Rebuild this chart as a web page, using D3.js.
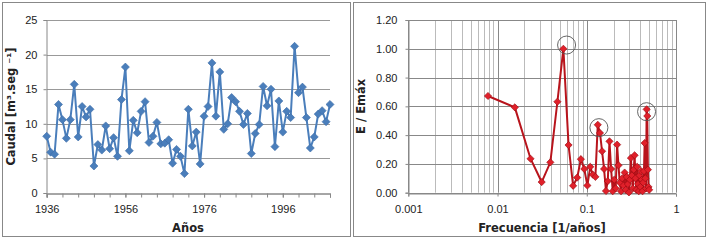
<!DOCTYPE html>
<html>
<head>
<meta charset="utf-8">
<script src="https://cdn.jsdelivr.net/npm/d3@7"></script>
<style>
	body { margin: 0; background: #fff; }
	svg { display: block; font-family: "DejaVu Sans", Verdana, sans-serif; }
	.tick text { font-size: 11px; fill: #222; }
	.title { font-size: 11.5px; font-weight: bold; fill: #222; }
</style>
</head>
<body>
<svg id="chart" width="709" height="241"></svg>
<script>
// caudal anual, 1936 - 2008
const startYear = 1936
const caudal = [
	8.2, 5.9, 5.6, 12.8, 10.6, 7.9, 10.6, 15.7, 8.1, 12.5,
	11.0, 12.1, 3.9, 7.0, 6.2, 9.7, 6.4, 8.0, 5.3, 13.5,
	18.2, 6.1, 10.5, 8.7, 11.8, 13.2, 7.3, 8.2, 10.2, 7.1,
	7.2, 7.7, 4.3, 6.3, 5.3, 2.8, 12.1, 6.8, 8.8, 4.2,
	11.1, 12.5, 18.8, 11.1, 17.5, 9.2, 10.0, 13.8, 13.2, 11.8,
	9.9, 11.5, 5.7, 8.6, 9.9, 15.4, 12.6, 15.0, 6.7, 13.3,
	8.8, 11.8, 10.9, 21.2, 14.5, 15.3, 10.9, 6.5, 8.1, 11.4,
	11.9, 10.3, 12.8
]
const yearLabels = [1936, 1956, 1976, 1996]
const caudalTicks = [0, 5, 10, 15, 20, 25]

// espectro normalizado, frecuencias k/128
const nfft = 128
const energia = [
	0.672, 0.593, 0.236, 0.074, 0.211, 0.632, 1.000, 0.331, 0.048, 0.105,
	0.233, 0.165, 0.050, 0.180, 0.125, 0.110, 0.472, 0.415, 0.288, 0.165,
	0.012, 0.080, 0.357, 0.165, 0.010, 0.090, 0.030, 0.334, 0.190, 0.070,
	0.010, 0.100, 0.050, 0.140, 0.020, 0.110, 0.060, 0.002, 0.090, 0.241,
	0.120, 0.030, 0.160, 0.260, 0.100, 0.020, 0.180, 0.060, 0.010, 0.120,
	0.040, 0.150, 0.090, 0.010, 0.070, 0.150, 0.345, 0.100, 0.030, 0.579,
	0.533, 0.160, 0.040, 0.020
]
const freqLabels = [0.001, 0.01, 0.1, 1]
const energiaTicks = [0, 0.2, 0.4, 0.6, 0.8, 1.0, 1.2]
// picos marcados con un circulo
const picos = [
	{f: 0.0594, e: 1.026},
	{f: 0.1368, e: 0.452},
	{f: 0.468, e: 0.563},
]

const svg = d3.select("#chart")
const gridColor = "#999"

function frame(x0, x1) {
	svg.append("rect")
		.attr("x", x0 + 0.5).attr("y", 2.5)
		.attr("width", x1 - x0).attr("height", 234)
		.attr("fill", "#fff").attr("stroke", "#888")
}

function diamond(g, data, x, y, size, fill, stroke) {
	g.selectAll(null).data(data).enter().append("path")
		.attr("d", d3.symbol(d3.symbolSquare, size))
		.attr("transform", d => "translate(" + x(d) + "," + y(d) + ") rotate(45)")
		.attr("fill", fill)
		.attr("stroke", stroke)
		.attr("stroke-width", 0.6)
}

function styleAxis(g) {
	g.select(".domain").attr("stroke", "#888")
	g.selectAll(".tick line").attr("stroke", "#888")
}

// ---------- caudal ----------
function drawCaudal() {
	frame(2, 350)
	const data = caudal.map((v, i) => ({year: startYear + i, v: v}))
	const x = d3.scaleLinear().domain([startYear, startYear + caudal.length - 1]).range([46.7, 330])
	const y = d3.scaleLinear().domain([0, 25]).range([193, 20])
	const g = svg.append("g")

	g.append("g").selectAll("line").data(caudalTicks.slice(1)).enter().append("line")
		.attr("x1", x.range()[0]).attr("x2", x.range()[1])
		.attr("y1", d => Math.round(y(d)) + 0.5).attr("y2", d => Math.round(y(d)) + 0.5)
		.attr("stroke", gridColor)

	g.append("g")
		.attr("transform", "translate(" + (x.range()[0] - 0.2) + ",0)")
		.call(d3.axisLeft(y).tickValues(caudalTicks).tickSize(3).tickPadding(6))
		.call(styleAxis)

	g.append("g")
		.attr("transform", "translate(0,193.5)")
		.call(d3.axisBottom(x).tickValues(d3.range(startYear, startYear + caudal.length, 4)).tickSize(4).tickFormat(""))
		.call(styleAxis)
	g.append("g")
		.attr("transform", "translate(0,193.5)")
		.call(d3.axisBottom(x).tickValues(yearLabels).tickSize(4).tickPadding(8).tickFormat(d3.format("d")))
		.call(styleAxis)

	const line = d3.line().x(d => x(d.year)).y(d => y(d.v))
	g.append("path").datum(data)
		.attr("fill", "none").attr("stroke", "#4a7ebb").attr("stroke-width", 2)
		.attr("d", line)
	diamond(g, data, d => x(d.year), d => y(d.v), 32, "#4a7ebb", "#3d6ea8")

	g.append("text").attr("class", "title")
		.attr("transform", "translate(15," + ((y.range()[0] + y.range()[1]) / 2) + ") rotate(-90)")
		.attr("text-anchor", "middle")
		.text("Caudal [m³.seg ⁻¹]")
	g.append("text").attr("class", "title")
		.attr("x", 188).attr("y", 232).attr("text-anchor", "middle")
		.text("Años")
}

// ---------- espectro ----------
function drawEspectro() {
	frame(353, 705)
	const data = energia.map((v, i) => ({f: (i + 1) / nfft, e: v}))
	const x = d3.scaleLog().domain([0.001, 1]).range([408.3, 676])
	const y = d3.scaleLinear().domain([0, 1.2]).range([192.7, 20])
	const g = svg.append("g")

	const minor = []
	freqLabels.slice(0, -1).forEach(dec => { for (let m = 2; m < 10; m++) minor.push(dec * m) })
	g.append("g").selectAll("line").data(minor).enter().append("line")
		.attr("x1", d => Math.round(x(d)) + 0.5).attr("x2", d => Math.round(x(d)) + 0.5)
		.attr("y1", y.range()[0]).attr("y2", y.range()[1])
		.attr("stroke", "#bbb")
	g.append("g").selectAll("line").data(freqLabels).enter().append("line")
		.attr("x1", d => Math.round(x(d)) + 0.5).attr("x2", d => Math.round(x(d)) + 0.5)
		.attr("y1", y.range()[0]).attr("y2", y.range()[1])
		.attr("stroke", "#888")
	g.append("g").selectAll("line").data(energiaTicks).enter().append("line")
		.attr("x1", x.range()[0]).attr("x2", x.range()[1])
		.attr("y1", d => Math.round(y(d)) + 0.5).attr("y2", d => Math.round(y(d)) + 0.5)
		.attr("stroke", "#888")

	g.append("g")
		.attr("transform", "translate(" + (Math.round(x.range()[0]) + 0.5) + ",0)")
		.call(d3.axisLeft(y).tickValues(energiaTicks).tickSize(3).tickPadding(8).tickFormat(d3.format(".2f")))
		.call(styleAxis)
	g.append("g")
		.attr("transform", "translate(0," + (Math.round(y.range()[0]) + 0.5) + ")")
		.call(d3.axisBottom(x).tickValues(freqLabels).tickSize(3).tickPadding(9).tickFormat(d => String(d)))
		.call(styleAxis)

	const line = d3.line().x(d => x(d.f)).y(d => y(d.e))
	g.append("path").datum(data)
		.attr("fill", "none").attr("stroke", "#b8141c").attr("stroke-width", 2)
		.attr("d", line)
	diamond(g, data, d => x(d.f), d => y(d.e), 26, "#e0202a", "#9a0a10")

	g.append("g").selectAll("circle").data(picos).enter().append("circle")
		.attr("cx", d => x(d.f)).attr("cy", d => y(d.e)).attr("r", 9)
		.attr("fill", "none").attr("stroke", "#555").attr("stroke-width", 0.9)

	g.append("text").attr("class", "title")
		.attr("transform", "translate(365," + ((y.range()[0] + y.range()[1]) / 2) + ") rotate(-90)")
		.attr("text-anchor", "middle")
		.text("E / Emáx")
	g.append("text").attr("class", "title")
		.attr("x", 542).attr("y", 232).attr("text-anchor", "middle")
		.text("Frecuencia [1/años]")
}

drawCaudal()
drawEspectro()
</script>
</body>
</html>
